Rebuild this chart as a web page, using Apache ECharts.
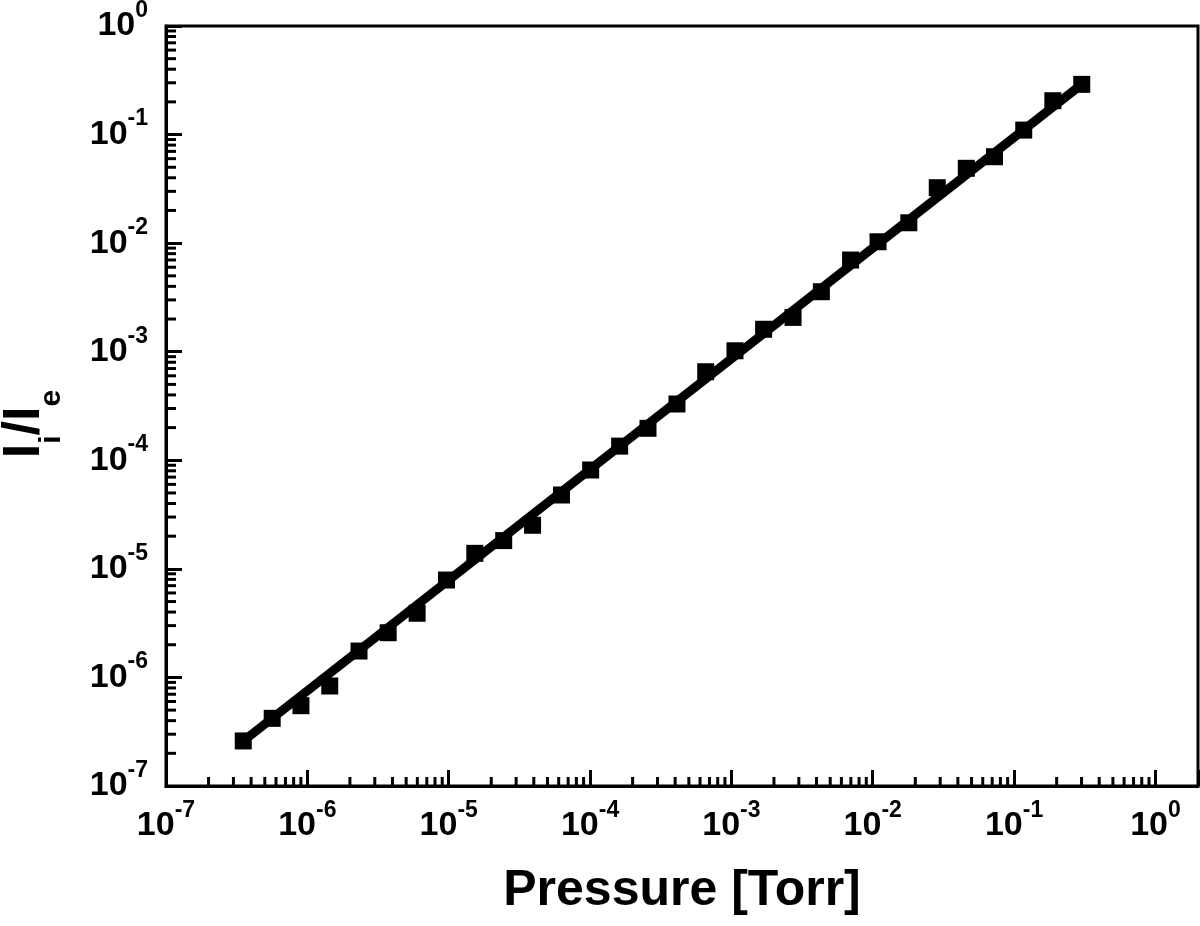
<!DOCTYPE html>
<html>
<head>
<meta charset="utf-8">
<script src="https://cdn.jsdelivr.net/npm/echarts@6/dist/echarts.min.js"></script>
<style>
html,body{margin:0;padding:0;background:#fff;}
#chart{width:1200px;height:926px;}
</style>
</head>
<body>
<div id="chart"></div>
<script>
// Data
const pressure = [3.52e-7, 5.64e-7, 9.01e-7, 1.44e-6, 2.32e-6, 3.73e-6, 5.98e-6, 9.65e-6,
  1.53e-5, 2.45e-5, 3.92e-5, 6.28e-5, 1.01e-4, 1.62e-4, 2.57e-4, 4.12e-4, 6.58e-4,
  1.06e-3, 1.69e-3, 2.73e-3, 4.33e-3, 6.97e-3, 1.09e-2, 1.80e-2, 2.86e-2, 4.59e-2,
  7.27e-2, 0.117, 0.188, 0.301];
const ratio = [2.60e-7, 4.20e-7, 5.49e-7, 8.34e-7, 1.75e-6, 2.58e-6, 3.90e-6, 7.89e-6,
  1.39e-5, 1.82e-5, 2.52e-5, 4.79e-5, 8.14e-5, 1.35e-4, 1.97e-4, 3.30e-4, 6.54e-4,
  1.02e-3, 1.61e-3, 2.07e-3, 3.57e-3, 6.99e-3, 1.03e-2, 1.54e-2, 3.24e-2, 4.89e-2,
  6.25e-2, 0.110, 0.205, 0.290];
// Fit line end points
const fitPressure = [3.52e-7, 0.301];
const fitRatio = [2.60e-7, 0.290];
// Axis ranges and minor tick multipliers
const xRange = [1e-7, 2];
const yRange = [1e-7, 1];
const decadesX = [-7, -6, -5, -4, -3, -2, -1];
const decadesY = [-7, -6, -5, -4, -3, -2, -1];
const minorMult = [2, 3, 4, 5, 6, 7, 8, 9];

const FONT = "'Liberation Sans', Arial, Helvetica, sans-serif";

const xMinor = [];
decadesX.forEach(d => minorMult.forEach(m => xMinor.push([m * Math.pow(10, d), yRange[0]])));
const yMinor = [];
decadesY.forEach(d => minorMult.forEach(m => yMinor.push([xRange[0], m * Math.pow(10, d)])));

function powLabel(v) {
  const l = Math.log10(v);
  const r = Math.round(l);
  if (Math.abs(l - r) > 1e-6) return '';
  return '{b|10}{s|' + (r < 0 ? '-' + (-r) : r) + '}';
}
const labelRich = {
  b: {fontSize: 34, fontWeight: 'bold', fontFamily: FONT, color: '#000', verticalAlign: 'top', padding: [10, 0, 10, 0]},
  s: {fontSize: 23, fontWeight: 'bold', fontFamily: FONT, color: '#000', verticalAlign: 'top'}
};

const chart = echarts.init(document.getElementById('chart'), null, {renderer: 'canvas'});
const option = {
  backgroundColor: '#fff',
  animation: false,
  grid: {
    left: 166, right: 2, top: 26, bottom: 140,
    show: true, borderColor: '#000', borderWidth: 3,
    containLabel: false, outerBoundsMode: 'none'
  },
  xAxis: {
    type: 'log', logBase: 10, min: xRange[0], max: xRange[1],
    splitNumber: 8,
    name: 'Pressure [Torr]', nameLocation: 'middle', nameGap: 80,
    nameTextStyle: {fontSize: 50, fontWeight: 'bold', fontFamily: FONT, color: '#000'},
    axisLine: {show: true, lineStyle: {color: '#000', width: 3}},
    axisTick: {show: true, inside: true, length: 16, lineStyle: {color: '#000', width: 3}},
    minorTick: {show: false},
    splitLine: {show: false},
    axisLabel: {formatter: powLabel, rich: labelRich, margin: 13, showMaxLabel: true, showMinLabel: true, hideOverlap: false}
  },
  yAxis: {
    type: 'log', logBase: 10, min: yRange[0], max: yRange[1],
    splitNumber: 7,
    name: '{a|I}{s|i}{a|/I}{s|e}', nameLocation: 'middle', nameGap: 99, nameRotate: 90,
    nameTextStyle: {
      color: '#000', padding: [0, 36, 0, 0],
      rich: {
        a: {fontSize: 52, fontWeight: 'bold', fontFamily: FONT, color: '#000', verticalAlign: 'top'},
        s: {fontSize: 30, fontWeight: 'bold', fontFamily: FONT, color: '#000', verticalAlign: 'top', padding: [38, 0, 0, 0]}
      }
    },
    axisLine: {show: true, lineStyle: {color: '#000', width: 3}},
    axisTick: {show: true, inside: true, length: 16, lineStyle: {color: '#000', width: 3}},
    minorTick: {show: false},
    splitLine: {show: false},
    axisLabel: {formatter: powLabel, rich: labelRich, margin: 18, showMaxLabel: true, showMinLabel: true, hideOverlap: false}
  },
  series: [
    {
      type: 'custom', silent: true, clip: false, z: 5,
      data: xMinor,
      renderItem: function (params, api) {
        const p = api.coord([api.value(0), api.value(1)]);
        return {type: 'line', shape: {x1: p[0], y1: p[1], x2: p[0], y2: p[1] - 9},
          style: {stroke: '#000', lineWidth: 3}};
      }
    },
    {
      type: 'custom', silent: true, clip: false, z: 5,
      data: yMinor,
      renderItem: function (params, api) {
        const p = api.coord([api.value(0), api.value(1)]);
        return {type: 'line', shape: {x1: p[0], y1: p[1], x2: p[0] + 10, y2: p[1]},
          style: {stroke: '#000', lineWidth: 3}};
      }
    },
    {
      type: 'line', silent: true, showSymbol: false, z: 3,
      data: fitPressure.map((p, i) => [p, fitRatio[i]]),
      lineStyle: {color: '#000', width: 9}
    },
    {
      type: 'scatter', silent: true, z: 4,
      symbol: 'rect', symbolSize: 17,
      itemStyle: {color: '#000', opacity: 1},
      data: pressure.map((p, i) => [p, ratio[i]])
    }
  ]
};
chart.setOption(option);
</script>
</body>
</html>
